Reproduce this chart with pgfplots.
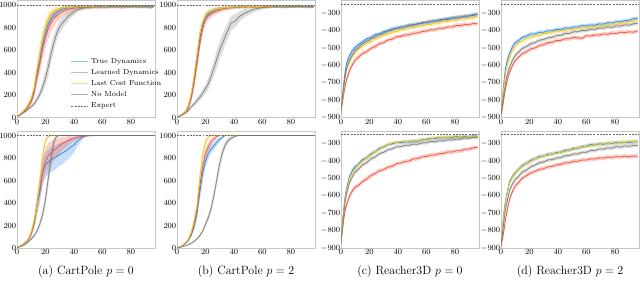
\documentclass[border=0pt]{standalone}
\usepackage{pgfplots}
\usepackage{pgfplotstable}
\pgfplotsset{compat=1.18}
\usepgfplotslibrary{fillbetween}

\definecolor{cT}{RGB}{45,135,235}
\definecolor{cL}{RGB}{240,85,65}
\definecolor{cC}{RGB}{240,200,20}
\definecolor{cN}{RGB}{128,128,128}
\definecolor{cE}{RGB}{105,105,105}

% CartPole p=0, top row
\pgfplotstableread{
x tm ts lm ls cm cs nm ns
0 10 5 10 5 10 5 8 5
2 25 8 24 8 28 8 20 6
4 45 10 44 10 50 10 38 8
6 70 15 67 15 78 15 55 10
8 105 20 100 22 115 20 75 12
10 150 30 145 35 170 30 95 15
12 230 40 220 45 260 50 120 20
14 380 60 360 70 430 70 160 25
16 500 70 480 85 580 80 205 35
18 650 70 610 95 710 70 270 50
20 750 60 710 95 820 60 350 70
22 830 50 790 90 885 50 450 80
24 880 40 845 80 925 40 570 80
26 910 35 880 70 948 30 670 70
28 935 30 905 60 960 25 750 60
30 950 25 925 50 968 20 805 55
32 962 22 940 45 973 18 840 50
34 970 20 952 40 976 16 870 45
36 975 18 960 35 980 15 900 40
38 978 15 968 30 978 15 920 35
40 982 15 972 25 983 14 940 30
42 985 12 976 22 981 15 955 25
44 980 15 980 20 986 12 965 20
46 987 12 978 20 982 14 972 18
48 983 15 983 18 987 12 976 15
50 988 10 980 20 984 14 980 15
54 985 12 985 15 988 10 983 14
58 990 10 982 18 983 15 986 12
62 983 15 988 12 987 12 982 14
66 988 12 984 15 984 14 987 12
70 986 12 987 14 989 10 984 14
74 990 10 982 18 985 13 988 11
78 984 15 988 12 988 11 985 13
82 989 10 985 14 983 15 988 12
86 985 15 989 12 987 12 984 14
90 988 12 984 15 985 13 987 12
94 982 18 987 13 988 11 985 13
96 986 12 985 14 984 14 986 12
}\tabAa

% CartPole p=0, bottom row
\pgfplotstableread{
x tm ts lm ls cm cs nm ns
0 5 3 5 3 5 3 3 2
2 15 5 15 5 15 5 10 4
4 30 8 30 8 30 8 20 6
6 50 10 50 10 50 10 35 8
8 75 15 75 15 80 15 55 10
10 130 25 125 25 140 25 80 12
12 210 40 220 45 240 45 110 15
14 370 80 380 80 370 60 150 20
16 490 100 540 100 580 80 210 30
18 670 110 680 120 820 60 300 40
20 740 110 770 120 950 30 430 60
22 765 110 820 110 990 10 620 80
24 785 110 850 100 1000 0 800 70
26 800 110 870 90 1000 0 950 40
28 815 105 890 80 1000 0 990 10
30 830 100 910 70 1000 0 1000 0
32 845 100 930 60 1000 0 1000 0
34 860 95 940 50 1000 0 1000 0
36 880 90 955 40 1000 0 1000 0
38 900 80 965 35 1000 0 1000 0
40 915 70 975 25 1000 0 1000 0
42 945 50 982 20 1000 0 1000 0
44 965 35 988 15 1000 0 1000 0
46 985 20 992 10 1000 0 1000 0
48 995 10 995 8 1000 0 1000 0
50 1000 0 997 5 1000 0 1000 0
54 1000 0 999 3 1000 0 1000 0
58 1000 0 1000 0 1000 0 1000 0
62 1000 0 1000 0 1000 0 1000 0
70 1000 0 1000 0 1000 0 1000 0
80 1000 0 1000 0 1000 0 1000 0
96 1000 0 1000 0 1000 0 1000 0
}\tabAb

% CartPole p=2, top row
\pgfplotstableread{
x tm ts lm ls cm cs nm ns
0 5 3 5 3 5 3 5 3
2 15 5 14 5 16 5 12 4
4 30 8 28 8 32 8 25 6
6 50 10 48 12 55 10 40 8
8 95 15 85 18 110 18 60 10
10 190 30 170 35 210 35 95 15
12 330 45 300 50 370 50 120 20
14 510 50 470 60 560 60 150 25
16 700 50 650 60 750 55 180 30
18 820 40 790 55 850 45 215 35
20 890 35 870 45 905 35 255 40
22 920 30 905 40 930 30 300 50
24 935 25 925 35 945 25 370 60
26 945 22 940 30 955 22 440 70
28 955 20 950 28 962 20 520 80
30 962 18 958 25 968 18 600 80
32 968 16 965 22 972 16 660 80
34 972 15 970 20 975 15 725 75
36 975 14 974 18 978 14 780 70
38 978 14 977 16 980 13 840 65
40 980 13 979 15 982 12 850 60
42 983 12 982 14 985 12 870 55
44 981 13 980 15 983 12 900 45
46 985 12 984 13 986 11 915 40
48 982 13 981 15 984 12 930 35
50 986 11 985 12 987 10 940 30
54 983 13 986 12 985 12 962 25
58 987 11 983 14 988 10 972 20
62 984 12 987 11 984 12 980 15
66 988 10 985 13 987 11 984 13
70 985 12 988 10 985 12 986 12
74 987 11 984 13 988 10 983 14
78 984 13 987 11 985 12 987 11
82 988 10 985 12 987 11 985 13
86 985 12 988 10 984 13 988 10
90 987 11 984 13 988 10 984 13
94 983 14 987 11 985 12 987 11
96 986 12 985 12 987 11 985 12
}\tabBa

% CartPole p=2, bottom row
\pgfplotstableread{
x tm ts lm ls cm cs nm ns
0 3 2 3 2 3 2 2 1
2 10 4 10 4 10 4 6 3
4 22 6 25 6 25 6 12 4
6 40 8 45 8 45 8 20 5
8 70 12 75 12 80 12 30 6
10 115 20 125 20 140 20 42 8
12 190 35 210 35 240 35 60 10
14 300 50 340 50 370 50 80 12
16 490 70 550 60 620 60 110 15
18 660 70 720 60 830 50 150 20
20 770 60 840 50 940 30 210 25
22 840 50 900 40 985 10 270 30
24 880 40 945 30 1000 0 350 35
26 910 35 970 20 1000 0 470 40
28 940 30 990 10 1000 0 610 50
30 965 20 1000 0 1000 0 750 50
32 985 10 1000 0 1000 0 850 40
34 1000 0 1000 0 1000 0 920 30
36 1000 0 1000 0 1000 0 955 25
38 1000 0 1000 0 1000 0 975 20
40 1000 0 1000 0 1000 0 988 10
42 1000 0 1000 0 1000 0 996 5
44 1000 0 1000 0 1000 0 1000 0
50 1000 0 1000 0 1000 0 1000 0
70 1000 0 1000 0 1000 0 1000 0
96 1000 0 1000 0 1000 0 1000 0
}\tabBb

% Reacher3D p=0, top row
\pgfplotstableread{
x tm ts lm ls cm cs nm ns
0 -860 25 -865 25 -860 25 -860 25
1 -780 25 -810 25 -795 25 -790 25
2 -700 22 -760 22 -730 22 -720 22
3 -630 20 -715 20 -670 20 -660 20
4 -585 18 -680 18 -625 18 -615 18
6 -545 15 -630 16 -580 15 -570 15
8 -515 14 -597 15 -548 14 -540 14
10 -498 13 -570 14 -527 13 -514 13
12 -484 12 -556 14 -508 12 -501 12
15 -466 12 -533 13 -492 12 -477 12
18 -448 12 -522 13 -473 12 -464 12
21 -441 12 -503 13 -464 12 -448 12
24 -424 12 -492 13 -446 12 -437 12
27 -420 11 -476 12 -440 11 -423 11
30 -407 11 -470 12 -426 11 -417 11
33 -402 11 -455 12 -422 11 -403 11
36 -390 11 -450 12 -410 11 -399 11
39 -387 11 -436 12 -407 11 -388 11
42 -380 11 -434 12 -396 11 -386 11
45 -379 11 -426 12 -394 11 -376 11
48 -368 11 -424 12 -386 11 -374 11
51 -370 11 -416 12 -384 11 -366 11
54 -360 11 -414 12 -376 11 -364 11
57 -360 11 -406 12 -374 11 -355 11
60 -353 11 -404 12 -366 11 -354 11
63 -352 11 -396 12 -366 11 -346 11
66 -344 11 -396 12 -358 11 -346 11
69 -346 11 -388 12 -357 11 -338 11
72 -336 11 -388 12 -348 11 -337 11
75 -338 11 -380 12 -349 11 -330 11
78 -328 11 -380 12 -341 11 -330 11
81 -330 11 -372 12 -342 11 -323 11
84 -323 11 -372 12 -334 11 -324 11
87 -322 11 -366 12 -335 11 -316 11
90 -316 11 -367 12 -328 11 -317 11
93 -314 11 -360 12 -328 11 -308 11
96 -306 11 -362 12 -318 11 -307 11
}\tabCa

% Reacher3D p=0, bottom row
\pgfplotstableread{
x tm ts lm ls cm cs nm ns
0 -860 25 -870 25 -860 25 -865 25
1 -760 25 -800 25 -770 25 -780 25
2 -670 22 -730 22 -680 22 -700 22
3 -600 20 -680 20 -610 20 -630 20
4 -555 18 -650 18 -565 18 -585 18
6 -490 15 -600 16 -500 15 -525 15
8 -455 14 -572 15 -465 14 -490 14
10 -433 13 -550 14 -444 13 -463 13
12 -422 12 -542 13 -423 12 -450 12
15 -393 12 -518 13 -402 12 -423 12
18 -382 12 -504 13 -381 12 -410 12
21 -360 12 -484 13 -367 12 -388 12
24 -347 11 -472 12 -346 11 -377 11
27 -328 11 -456 12 -334 11 -358 11
30 -320 11 -450 12 -316 11 -350 11
33 -306 10 -436 12 -307 10 -336 10
36 -302 10 -430 12 -296 10 -330 10
39 -294 10 -416 12 -294 10 -318 10
42 -296 10 -412 12 -288 10 -318 10
45 -290 10 -403 12 -290 10 -310 10
48 -292 10 -400 12 -284 10 -310 10
51 -286 10 -388 12 -287 10 -303 10
54 -287 10 -386 12 -281 10 -304 10
57 -278 10 -376 12 -282 10 -296 10
60 -278 10 -374 12 -273 10 -296 10
63 -270 10 -366 12 -274 10 -288 10
66 -272 10 -366 12 -266 10 -290 10
69 -266 10 -358 12 -268 10 -284 10
72 -268 10 -357 12 -263 10 -285 10
75 -263 10 -348 12 -266 10 -278 10
78 -265 10 -349 12 -261 10 -280 10
81 -260 10 -342 12 -264 10 -274 10
84 -263 10 -342 12 -260 10 -275 10
87 -258 10 -333 12 -264 10 -268 10
90 -262 10 -332 12 -259 10 -270 10
93 -256 10 -324 12 -262 10 -264 10
96 -259 10 -322 12 -257 10 -266 10
}\tabCb

% Reacher3D p=2, top row
\pgfplotstableread{
x tm ts lm ls cm cs nm ns
0 -870 25 -880 25 -870 25 -875 25
1 -790 25 -845 25 -800 25 -830 25
2 -700 22 -790 22 -720 22 -770 22
3 -630 20 -740 20 -655 20 -710 20
4 -585 18 -700 18 -610 18 -665 18
6 -530 15 -640 16 -555 15 -610 15
8 -495 14 -602 15 -515 14 -572 14
10 -470 13 -573 14 -492 13 -543 13
12 -460 12 -557 13 -472 12 -527 12
15 -440 12 -533 13 -460 12 -503 12
18 -432 12 -522 13 -444 12 -492 12
21 -420 12 -506 13 -440 12 -476 12
24 -420 11 -500 12 -430 11 -470 11
27 -410 11 -486 12 -428 11 -456 11
30 -410 11 -482 12 -418 11 -452 11
33 -402 11 -470 12 -417 11 -442 11
36 -402 11 -468 12 -408 11 -440 11
39 -394 11 -458 12 -408 11 -430 11
42 -394 11 -457 12 -400 11 -428 11
45 -386 11 -448 12 -400 11 -418 11
48 -387 11 -448 12 -393 11 -417 11
51 -380 11 -440 12 -394 11 -408 11
54 -380 11 -442 12 -386 11 -407 11
57 -372 11 -446 12 -387 11 -400 11
60 -374 11 -430 12 -380 11 -400 11
63 -368 11 -432 12 -382 11 -393 11
66 -370 11 -426 12 -375 11 -394 11
69 -362 11 -427 12 -376 11 -386 11
72 -364 11 -420 12 -369 11 -387 11
75 -356 11 -422 12 -370 11 -380 11
78 -357 11 -416 12 -363 11 -382 11
81 -350 11 -417 12 -364 11 -374 11
84 -350 11 -410 12 -356 11 -375 11
87 -343 11 -412 12 -357 11 -368 11
90 -342 11 -408 12 -350 11 -370 11
93 -333 11 -410 12 -346 11 -362 11
96 -330 11 -404 12 -340 11 -360 11
}\tabDa

% Reacher3D p=2, bottom row
\pgfplotstableread{
x tm ts lm ls cm cs nm ns
0 -870 25 -885 25 -870 25 -875 25
1 -790 25 -850 25 -795 25 -820 25
2 -700 22 -800 22 -705 22 -750 22
3 -640 20 -745 20 -645 20 -690 20
4 -595 18 -700 18 -600 18 -645 18
6 -520 15 -620 16 -525 15 -570 15
8 -490 14 -577 15 -492 14 -532 14
10 -468 13 -543 14 -472 13 -506 13
12 -452 12 -527 13 -450 12 -492 12
15 -426 12 -498 13 -432 12 -463 12
18 -414 12 -484 13 -412 12 -452 12
21 -396 12 -468 13 -402 12 -433 12
24 -388 11 -460 12 -386 11 -424 11
27 -374 11 -448 12 -380 11 -410 11
30 -372 11 -444 12 -370 11 -406 11
33 -362 11 -434 12 -368 11 -394 11
36 -360 11 -432 12 -358 11 -392 11
39 -352 11 -422 12 -357 11 -383 11
42 -350 11 -420 12 -348 11 -380 11
45 -340 11 -410 12 -346 11 -370 11
48 -338 11 -410 12 -336 11 -368 11
51 -328 11 -402 12 -334 11 -360 11
54 -327 11 -402 12 -324 11 -360 11
57 -318 11 -394 12 -322 11 -350 11
60 -316 11 -395 12 -314 11 -350 11
63 -306 11 -388 12 -314 11 -340 11
66 -308 11 -389 12 -306 11 -340 11
69 -302 11 -382 12 -307 11 -332 11
72 -304 11 -384 12 -300 11 -332 11
75 -298 11 -378 12 -302 11 -325 11
78 -300 11 -380 12 -296 11 -326 11
81 -294 11 -375 12 -298 11 -318 11
84 -296 11 -377 12 -292 11 -320 11
87 -292 11 -373 12 -294 11 -314 11
90 -294 11 -376 12 -288 11 -316 11
93 -289 11 -372 12 -290 11 -310 11
96 -290 11 -374 12 -286 11 -311 11
}\tabDb

\newcommand\band[4]{%
  \addplot[draw=none,forget plot,name path=U#2] table[x=x,y expr={min(\thisrow{#2}+\thisrow{#3},1000)}]{#1};
  \addplot[draw=none,forget plot,name path=L#2] table[x=x,y expr={\thisrow{#2}-\thisrow{#3}}]{#1};
  \addplot[fill=#4,fill opacity=0.28,draw=none,forget plot] fill between[of=U#2 and L#2];
}
\newcommand\mline[3]{\addplot[#3,line width=0.75pt,forget plot] table[x=x,y=#2]{#1};}
\newcommand\allseries[2]{%
  \band{#1}{tm}{ts}{cT}\band{#1}{lm}{ls}{cL}\band{#1}{cm}{cs}{cC}\band{#1}{nm}{ns}{cN}
  \mline{#1}{tm}{cT}\mline{#1}{lm}{cL}\mline{#1}{cm}{cC}\mline{#1}{nm}{cN}
  \addplot[cE,line width=0.4pt,dash pattern=on 2pt off 1.2pt,forget plot] coordinates {(0,#2) (97,#2)};
}

\pgfplotsset{
  panel/.style={width=138bp,height=117bp,scale only axis,xmin=0,xmax=97,
    axis line style={draw=black!22,line width=0.7pt},
    major tick length=0pt, tick style={draw=none},
    xtick={0,20,40,60,80},
    tick label style={font=\fontsize{8}{9}\selectfont},
    yticklabel style={inner xsep=0.6pt},
    xticklabel style={inner ysep=1.5pt},
    /pgf/number format/set thousands separator={},
    anchor=north west},
  cart/.style={panel,ymin=0,ymax=1040,ytick={0,200,400,600,800,1000}},
  reach/.style={panel,ymin=-900,ymax=-228,ytick={-900,-800,-700,-600,-500,-400,-300}},
}
\tikzset{captext/.style={font=\fontsize{12}{14}\selectfont,anchor=center,yshift=-24bp}}

\begin{document}
\begin{tikzpicture}

% (a) top with legend
\begin{axis}[cart,at={(17bp,-0.5bp)},
  legend style={at={(0.38,0.535)},anchor=north west,draw=none,fill=none,
    font=\fontsize{7.3}{8}\selectfont,row sep=0.6pt,inner sep=1pt},
  legend cell align=left]
\allseries{\tabAa}{1000}
\addlegendimage{cT,line width=1.6pt,opacity=0.5}\addlegendentry{True Dynamics}
\addlegendimage{cL,line width=1.6pt,opacity=0.5}\addlegendentry{Learned Dynamics}
\addlegendimage{cC,line width=1.6pt,opacity=0.6}\addlegendentry{Last Cost Function}
\addlegendimage{cN,line width=1.2pt,opacity=0.6}\addlegendentry{No Model}
\addlegendimage{cE,line width=0.4pt,dash pattern=on 2pt off 1.2pt}\addlegendentry{Expert}
\end{axis}
\begin{axis}[cart,at={(17bp,-131bp)},name=ab]
\allseries{\tabAb}{1000}
\end{axis}
\node[captext] at (ab.south) {(a) CartPole $p=0$};

% (b)
\begin{axis}[cart,at={(177bp,-0.5bp)}]
\allseries{\tabBa}{1000}
\end{axis}
\begin{axis}[cart,at={(177bp,-131bp)},name=bb]
\allseries{\tabBb}{1000}
\end{axis}
\node[captext] at (bb.south) {(b) CartPole $p=2$};

% (c)
\begin{axis}[reach,at={(341bp,-0.5bp)}]
\allseries{\tabCa}{-248}
\end{axis}
\begin{axis}[reach,at={(341bp,-131bp)},name=cb]
\allseries{\tabCb}{-245}
\end{axis}
\node[captext] at (cb.south) {(c) Reacher3D $p=0$};

% (d)
\begin{axis}[reach,at={(501bp,-0.5bp)}]
\allseries{\tabDa}{-248}
\end{axis}
\begin{axis}[reach,at={(501bp,-131bp)},name=db]
\allseries{\tabDb}{-245}
\end{axis}
\node[captext] at (db.south) {(d) Reacher3D $p=2$};

\pgfresetboundingbox
\path[use as bounding box] (0,0) rectangle (640bp,-294bp);
\end{tikzpicture}
\end{document}
